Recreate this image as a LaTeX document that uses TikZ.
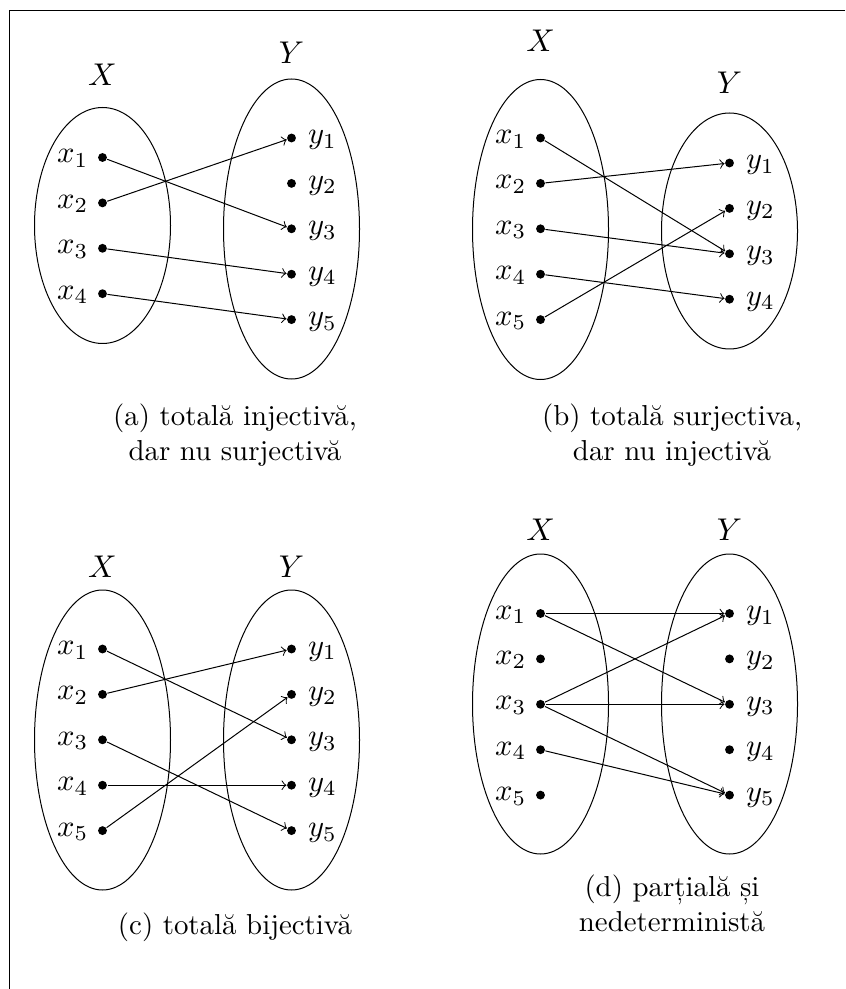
\documentclass[tikz,border=0pt]{standalone}
\usetikzlibrary{shapes.geometric}
\tikzset{
  px/.style={x=0.35pt,y=-0.35pt},
  setell/.style={draw,ellipse,inner sep=0pt,line width=0.35pt},
  pnt/.style={circle,fill=black,inner sep=0pt,minimum size=3.1pt},
  ptlabel/.style={inner sep=0pt,anchor=base west,scale=1.07},
  setname/.style={inner sep=0pt,scale=1.1},
  capt/.style={inner sep=0pt,align=center,anchor=base,scale=1.01},
  arr/.style={->,line width=0.35pt}
}
\newcommand{\setpair}[6]{%
  \node[setell,minimum width=47.6pt,minimum height=#4*0.35pt] (#1ex) at (#2,#3) {};
  \node[setell,minimum width=47.6pt,minimum height=#6*0.35pt] (#1ey) at (#2+189,#5) {};
}
\newcommand{\xpts}[4]{%
  \foreach \i in {1,...,#4}{
    \node[pnt] (#1x\i) at (#2,{#3+(\i-1)*45.4}) {};
    \node[ptlabel] (#1xl\i) at ({#2-46},{#3+(\i-1)*45.4+5.5}) {$x_{\i}$};
  }}
\newcommand{\ypts}[4]{%
  \foreach \i in {1,...,#4}{
    \node[pnt] (#1y\i) at (#2,{#3+(\i-1)*45.4}) {};
    \node[ptlabel] (#1yl\i) at ({#2+16},{#3+(\i-1)*45.4+6}) {$y_{\i}$};
  }}
\begin{document}
\begin{tikzpicture}[px]
\useasboundingbox (0,0) rectangle (845,989);
\draw[line width=0.35pt] (845,11) -- (9,11) -- (9,989);

% (a)
\setpair{a}{102.5}{225.5}{236}{229}{300}
\xpts{a}{102.5}{157.5}{4}
\ypts{a}{291.5}{138}{5}
\node[setname] (aX) at (102.5,75) {$X$};
\node[setname] (aY) at (291.5,53) {$Y$};
\draw[arr] (ax1) -- (ay3);
\draw[arr] (ax2) -- (ay1);
\draw[arr] (ax3) -- (ay4);
\draw[arr] (ax4) -- (ay5);
\node[capt] (acap) at (235,460) {(a) totală injectivă,\\dar nu surjectivă};

% (b)
\setpair{b}{540.5}{229.5}{300}{231}{236}
\xpts{b}{540.5}{138}{5}
\ypts{b}{729.5}{163}{4}
\node[setname] (bX) at (540.5,41) {$X$};
\node[setname] (bY) at (729.5,83) {$Y$};
\draw[arr] (bx1) -- (by3);
\draw[arr] (bx2) -- (by1);
\draw[arr] (bx3) -- (by3);
\draw[arr] (bx4) -- (by4);
\draw[arr] (bx5) -- (by2);
\node[capt] (bcap) at (672,460) {(b) totală surjectiva,\\dar nu injectivă};

% (c)
\setpair{c}{102.5}{740}{300}{740}{300}
\xpts{c}{102.5}{649}{5}
\ypts{c}{291.5}{649}{5}
\node[setname] (cX) at (102.5,567) {$X$};
\node[setname] (cY) at (291.5,567) {$Y$};
\draw[arr] (cx1) -- (cy3);
\draw[arr] (cx2) -- (cy1);
\draw[arr] (cx3) -- (cy5);
\draw[arr] (cx4) -- (cy4);
\draw[arr] (cx5) -- (cy2);
\node[capt] (ccap) at (235,934) {(c) totală bijectivă};

% (d)
\setpair{d}{540.5}{704}{300}{704}{300}
\xpts{d}{540.5}{613.5}{5}
\ypts{d}{729.5}{613.5}{5}
\node[setname] (dX) at (540.5,530) {$X$};
\node[setname] (dY) at (729.5,530) {$Y$};
\draw[arr] (dx1) -- (dy1);
\draw[arr] (dx1) -- (dy3);
\draw[arr] (dx3) -- (dy1);
\draw[arr] (dx3) -- (dy3);
\draw[arr] (dx3) -- (dy5);
\draw[arr] (dx4) -- (dy5);
\node[capt] (dcap) at (672,931) {(d) parțială și\\nedeterministă};
\end{tikzpicture}
\end{document}
